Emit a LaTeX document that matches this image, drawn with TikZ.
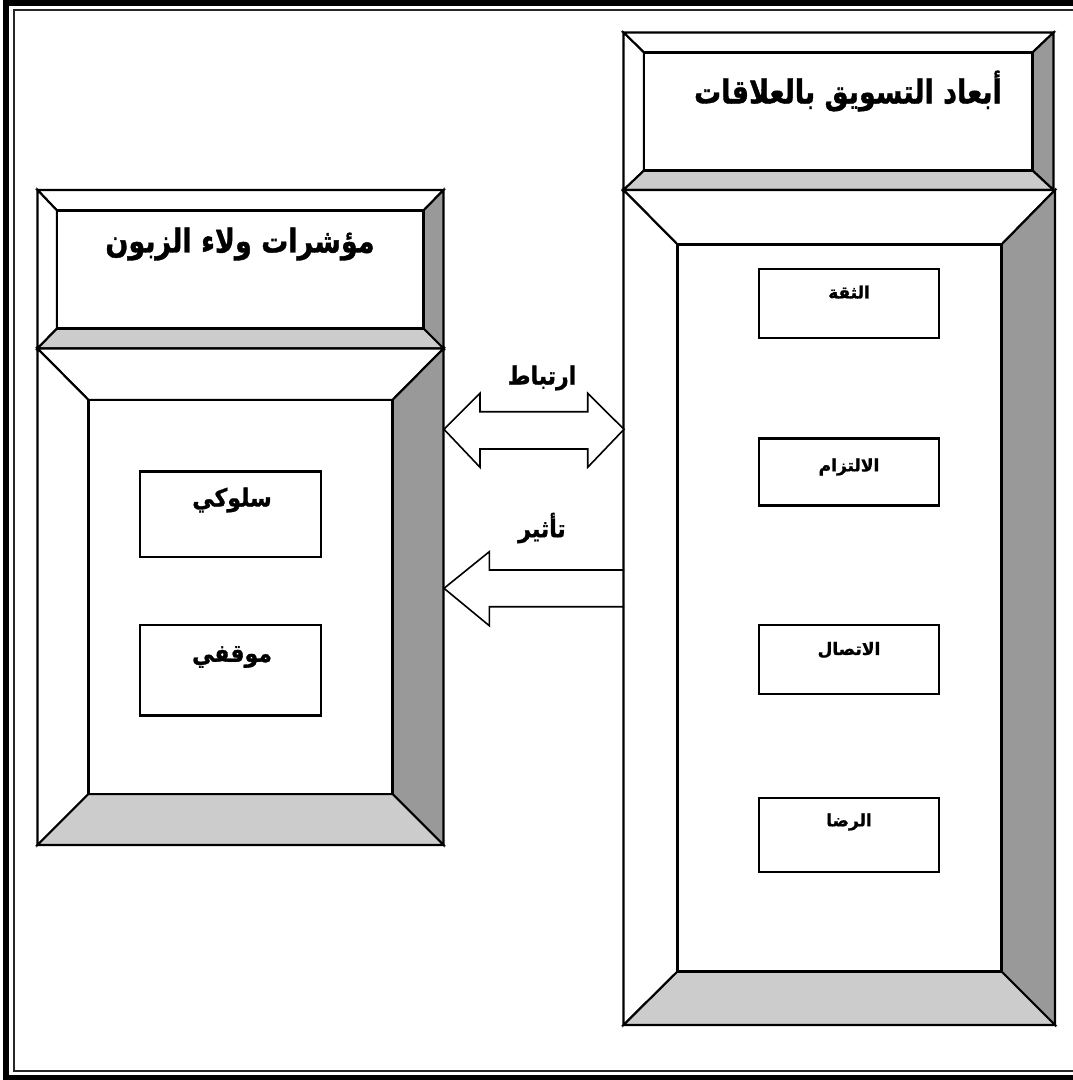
\documentclass[tikz,border=0pt]{standalone}
\usepackage{fontspec}
\TeXXeTstate=1
\newfontfamily\arabicfont[Script=Arabic,BoldFeatures={FakeBold=1.2}]{DejaVu Sans}
\definecolor{darkside}{HTML}{999999}
\definecolor{lightside}{HTML}{CCCCCC}
\newcommand\arbx[2][1]{\scalebox{1}[#1]{\arabicfont\bfseries\beginR #2\endR}}
% bevelled box: name, outer x1,y1,x2,y2, inner a1,b1,a2,b2
\newcommand\bevbox[9]{%
  \filldraw[bev,fill=white] (#2,#3) -- (#4,#3) -- (#8,#7) -- (#6,#7) -- cycle;
  \filldraw[bev,fill=white] (#2,#3) -- (#6,#7) -- (#6,#9) -- (#2,#5) -- cycle;
  \filldraw[bev,fill=darkside] (#4,#3) -- (#4,#5) -- (#8,#9) -- (#8,#7) -- cycle;
  \filldraw[bev,fill=lightside] (#2,#5) -- (#4,#5) -- (#8,#9) -- (#6,#9) -- cycle;
  \filldraw[bev,fill=white] (#6,#7) rectangle (#8,#9);
  \coordinate (#1-nw) at (#2,#3);
  \coordinate (#1-se) at (#4,#5);
}
\begin{document}
\begin{tikzpicture}[x=1pt,y=-1pt,
  bev/.style={draw=black,line width=2.1pt,line join=miter},
  smallbox/.style={draw=black,line width=2.1pt,fill=white},
  blockarrow/.style={draw=black,line width=1.6pt,fill=white,line join=miter},
  headtxt/.style={font=\fontsize{27}{32}\selectfont,inner sep=0pt},
  lbltxt/.style={font=\fontsize{22}{26}\selectfont,inner sep=0pt},
  dimtxt/.style={font=\fontsize{17}{20}\selectfont,inner sep=0pt}]
\useasboundingbox (0,0) rectangle (1073,1080);
% page frame
\draw[line width=6pt] (6,2.8) rectangle (1095,1077.5);
\draw[line width=2pt,draw=black!85] (13.8,10) rectangle (1095,1071);

% right column
\bevbox{rhead}{623.5}{32.5}{1053.5}{190}{644}{52.5}{1032.5}{170.5}
\bevbox{rbody}{623.5}{190}{1055}{1025}{677.5}{244.5}{1001.5}{971.5}
% left column
\bevbox{lhead}{37.5}{190}{443.5}{348.5}{57}{210.5}{423.5}{328.5}
\bevbox{lbody}{37.5}{348.5}{443.5}{845}{88.5}{400}{392.5}{794}

% headings
\node[headtxt] (ht1) at (848,91) {\arbx[1.22]{أبعاد التسويق بالعلاقات}};
\node[headtxt] (ht2) at (240,244) {\arbx[1.22]{مؤشرات ولاء الزبون}};

% left small boxes
\draw[smallbox] (140,471.5) rectangle (321,557);
\draw[smallbox] (140,625) rectangle (321,715.5);
\node[lbltxt] (t1) at (232,500) {\arbx[1.12]{سلوكي}};
\node[lbltxt] (t2) at (232,657) {\arbx[1.12]{موقفي}};

% right small boxes
\draw[smallbox] (759,269) rectangle (939,338);
\draw[smallbox] (759,438.5) rectangle (939,505.5);
\draw[smallbox] (759,625) rectangle (939,694);
\draw[smallbox] (759,798) rectangle (939,872);
\node[dimtxt] (d1) at (849,292) {\arbx{الثقة}};
\node[dimtxt] (d2) at (849,467) {\arbx{الالتزام}};
\node[dimtxt] (d3) at (849,650) {\arbx{الاتصال}};
\node[dimtxt] (d4) at (849,822) {\arbx{الرضا}};

% arrows
\coordinate (aL) at (444,429.3);
\coordinate (aR) at (624,429.3);
\filldraw[blockarrow] (aL) -- (480,393.3) -- (480,411.7) -- (587.7,411.7) -- (587.7,393.3)
  -- (aR) -- (587.7,467.3) -- (587.7,449) -- (480,449) -- (480,467.3) -- cycle;
\node[lbltxt] (rl) at (542,378) {\arbx[1.12]{ارتباط}};

\coordinate (bL) at (444,588.3);
\fill[white] (621,570) -- (489.3,570) -- (489.3,551.7) -- (bL) -- (489.3,625.7) -- (489.3,606.7) -- (621,606.7) -- cycle;
\draw[blockarrow,fill=none] (624,570) -- (489.3,570) -- (489.3,551.7) -- (bL) -- (489.3,625.7) -- (489.3,606.7) -- (624,606.7);
\node[lbltxt] (il) at (542,528) {\arbx[1.12]{تأثير}};
\end{tikzpicture}
\end{document}
